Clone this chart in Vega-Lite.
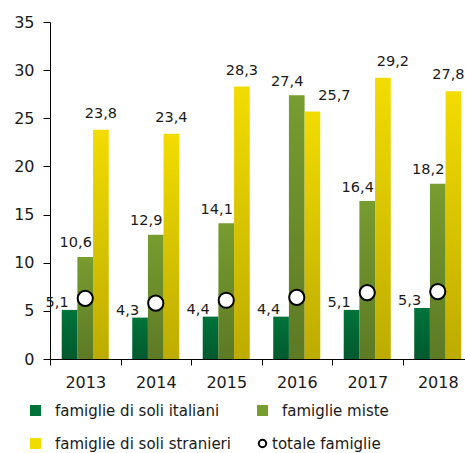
{
  "$schema": "https://vega.github.io/schema/vega-lite/v6.json",
  "width": 423,
  "height": 337,
  "padding": {"left": 13, "top": 14, "right": 0, "bottom": 0},
  "background": "white",
  "data": {
    "values": [
      {"anno": "2013", "serie": "famiglie di soli italiani", "valore": 5.1},
      {"anno": "2013", "serie": "famiglie miste", "valore": 10.6},
      {"anno": "2013", "serie": "famiglie di soli stranieri", "valore": 23.8},
      {"anno": "2013", "serie": "totale famiglie", "valore": 6.3},
      {"anno": "2014", "serie": "famiglie di soli italiani", "valore": 4.3},
      {"anno": "2014", "serie": "famiglie miste", "valore": 12.9},
      {"anno": "2014", "serie": "famiglie di soli stranieri", "valore": 23.4},
      {"anno": "2014", "serie": "totale famiglie", "valore": 5.8},
      {"anno": "2015", "serie": "famiglie di soli italiani", "valore": 4.4},
      {"anno": "2015", "serie": "famiglie miste", "valore": 14.1},
      {"anno": "2015", "serie": "famiglie di soli stranieri", "valore": 28.3},
      {"anno": "2015", "serie": "totale famiglie", "valore": 6.1},
      {"anno": "2016", "serie": "famiglie di soli italiani", "valore": 4.4},
      {"anno": "2016", "serie": "famiglie miste", "valore": 27.4},
      {"anno": "2016", "serie": "famiglie di soli stranieri", "valore": 25.7},
      {"anno": "2016", "serie": "totale famiglie", "valore": 6.4},
      {"anno": "2017", "serie": "famiglie di soli italiani", "valore": 5.1},
      {"anno": "2017", "serie": "famiglie miste", "valore": 16.4},
      {"anno": "2017", "serie": "famiglie di soli stranieri", "valore": 29.2},
      {"anno": "2017", "serie": "totale famiglie", "valore": 6.9},
      {"anno": "2018", "serie": "famiglie di soli italiani", "valore": 5.3},
      {"anno": "2018", "serie": "famiglie miste", "valore": 18.2},
      {"anno": "2018", "serie": "famiglie di soli stranieri", "valore": 27.8},
      {"anno": "2018", "serie": "totale famiglie", "valore": 7.0}
    ]
  },
  "encoding": {
    "x": {
      "field": "anno",
      "type": "nominal",
      "title": null,
      "scale": {"paddingInner": 0, "paddingOuter": 0},
      "axis": {"tickBand": "extent", "labelAngle": 0, "tickSize": 6, "labelPadding": 9}
    },
    "y": {
      "field": "valore",
      "type": "quantitative",
      "title": null,
      "scale": {"domain": [0, 35], "nice": false},
      "axis": {"values": [0, 5, 10, 15, 20, 25, 30, 35], "tickSize": 7, "labelPadding": 9}
    }
  },
  "layer": [
    {
      "transform": [{"filter": "datum.serie !== 'totale famiglie'"}],
      "mark": {"type": "bar"},
      "encoding": {
        "xOffset": {
          "field": "serie",
          "scale": {"domain": ["famiglie di soli italiani", "famiglie miste", "famiglie di soli stranieri"], "paddingInner": 0, "paddingOuter": 0.75}
        },
        "color": {
          "field": "serie",
          "type": "nominal",
          "scale": {
            "domain": ["famiglie di soli italiani", "famiglie miste", "famiglie di soli stranieri", "totale famiglie"],
            "range": ["#00733a", "#779c2f", "#f2dc00", "#ffffff"]
          },
          "legend": {
            "title": null,
            "orient": "none",
            "legendX": -22,
            "legendY": 381,
            "columns": 2,
            "direction": "horizontal",
            "labelFontSize": 15,
            "labelFont": "DejaVu Sans",
            "labelColor": "#1a1a1a",
            "labelLimit": 400,
            "symbolSize": 121,
            "symbolType": "square",
            "labelOffset": 12,
            "rowPadding": 14,
            "columnPadding": 22,
            "padding": 0,
            "encode": {
              "symbols": {
                "update": {
                  "shape": {"signal": "datum.value === 'totale famiglie' ? 'circle' : 'square'"},
                  "stroke": {"signal": "datum.value === 'totale famiglie' ? 'black' : 'transparent'"},
                  "strokeWidth": {"value": 2},
                  "size": {"signal": "datum.value === 'totale famiglie' ? 55 : 121"}
                }
              },
              "labels": {
                "update": {
                  "dx": {"signal": "datum.value === 'totale famiglie' ? -10 : 0"}
                }
              }
            }
          }
        }
      }
    },
    {
      "transform": [{"filter": "datum.serie !== 'totale famiglie'"}],
      "mark": {
        "type": "bar",
        "color": {
          "gradient": "linear",
          "x1": 0, "y1": 0, "x2": 0, "y2": 1,
          "stops": [
            {"offset": 0, "color": "rgba(0,0,0,0)"},
            {"offset": 1, "color": "rgba(0,0,0,0.22)"}
          ]
        }
      },
      "encoding": {
        "xOffset": {
          "field": "serie",
          "scale": {"domain": ["famiglie di soli italiani", "famiglie miste", "famiglie di soli stranieri"], "paddingInner": 0, "paddingOuter": 0.75}
        }
      }
    },
    {
      "transform": [{"filter": "datum.serie === 'famiglie di soli italiani'"}],
      "mark": {"type": "text", "fontSize": 14.5, "font": "DejaVu Sans", "color": "#1a1a1a", "baseline": "alphabetic", "dx": -12.5, "dy": -3},
      "encoding": {
        "xOffset": {
          "field": "serie",
          "scale": {"domain": ["famiglie di soli italiani", "famiglie miste", "famiglie di soli stranieri"], "paddingInner": 0, "paddingOuter": 0.75}
        },
        "text": {"field": "valore", "type": "quantitative", "format": ".1f"}
      }
    },
    {
      "transform": [{"filter": "datum.serie === 'famiglie miste'"}],
      "mark": {"type": "text", "fontSize": 14.5, "font": "DejaVu Sans", "color": "#1a1a1a", "baseline": "alphabetic", "dx": -9.5, "dy": -9.5},
      "encoding": {
        "xOffset": {
          "field": "serie",
          "scale": {"domain": ["famiglie di soli italiani", "famiglie miste", "famiglie di soli stranieri"], "paddingInner": 0, "paddingOuter": 0.75}
        },
        "text": {"field": "valore", "type": "quantitative", "format": ".1f"}
      }
    },
    {
      "transform": [{"filter": "datum.serie === 'famiglie di soli stranieri'"}],
      "mark": {
        "type": "text", "fontSize": 14.5, "font": "DejaVu Sans", "color": "#1a1a1a", "baseline": "alphabetic", "dy": -12,
        "dx": {"expr": "datum.anno === '2016' ? 22 : datum.anno === '2017' ? 10 : datum.anno === '2018' ? -5 : 0"}
      },
      "encoding": {
        "xOffset": {
          "field": "serie",
          "scale": {"domain": ["famiglie di soli italiani", "famiglie miste", "famiglie di soli stranieri"], "paddingInner": 0, "paddingOuter": 0.75}
        },
        "text": {"field": "valore", "type": "quantitative", "format": ".1f"}
      }
    },
    {
      "transform": [{"filter": "datum.serie === 'totale famiglie'"}],
      "mark": {"type": "point", "shape": "circle", "filled": true, "stroke": "black", "strokeWidth": 2, "size": 230, "opacity": 1},
      "encoding": {
        "color": {"field": "serie", "type": "nominal"}
      }
    }
  ],
  "config": {
    "locale": {"number": {"decimal": ",", "thousands": ".", "grouping": [3], "currency": ["€", ""]}},
    "view": {"stroke": null},
    "axis": {
      "grid": false,
      "domainColor": "black",
      "tickColor": "black",
      "labelColor": "#1a1a1a",
      "labelFont": "DejaVu Sans",
      "labelFontSize": 16
    }
  }
}
